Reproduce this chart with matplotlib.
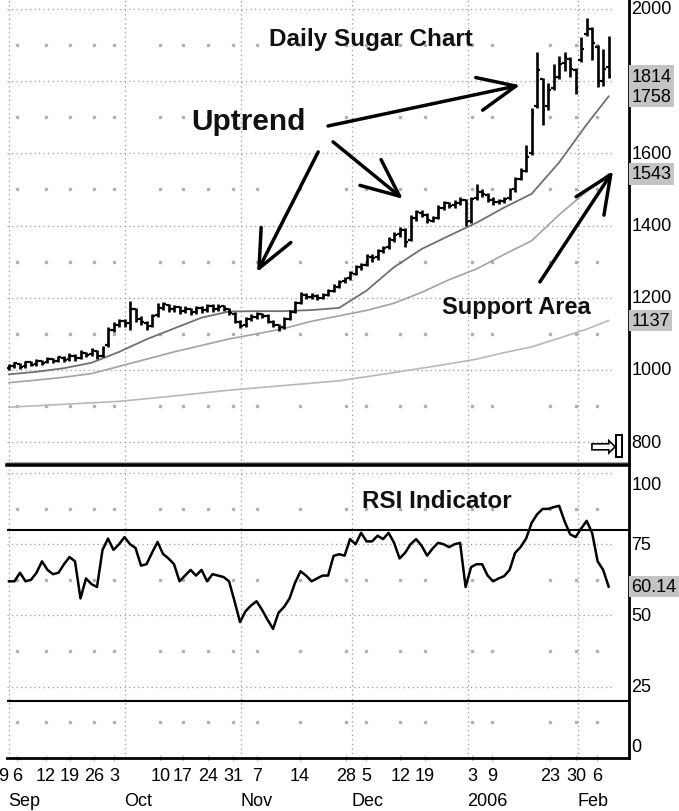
import matplotlib.pyplot as plt
import numpy as np
from matplotlib.patches import Rectangle
from matplotlib.transforms import blended_transform_factory

plt.rcParams["font.family"] = ["Liberation Sans", "DejaVu Sans"]

# daily sugar bars, one per trading day (Sep 1 2005 .. Feb 8 2006)
OPEN = [1005, 1012, 1016, 1010, 1021, 1016, 1025, 1022, 1030, 1025,
        1034, 1030, 1040, 1034, 1047, 1043, 1052, 1040, 1068, 1112,
        1124, 1135, 1130, 1168, 1141, 1130, 1122, 1152, 1172, 1180,
        1168, 1174, 1164, 1170, 1160, 1172, 1166, 1177, 1168, 1176,
        1168, 1156, 1134, 1124, 1140, 1148, 1154, 1150, 1134, 1124,
        1118, 1142, 1162, 1186, 1208, 1202, 1206, 1200, 1208, 1220,
        1230, 1246, 1254, 1266, 1286, 1292, 1314, 1312, 1330, 1340,
        1360, 1376, 1388, 1360, 1420, 1436, 1430, 1414, 1422, 1450,
        1462, 1456, 1462, 1470, 1412, 1476, 1494, 1486, 1472, 1464,
        1468, 1476, 1500, 1530, 1552, 1600, 1730, 1805, 1730, 1780,
        1812, 1850, 1862, 1830, 1860, 1930, 1945, 1895, 1800, 1840]
HIGH = [1016, 1022, 1020, 1026, 1025, 1030, 1028, 1036, 1033, 1040,
        1038, 1046, 1043, 1054, 1050, 1060, 1056, 1066, 1118, 1132,
        1142, 1140, 1190, 1172, 1150, 1136, 1156, 1186, 1188, 1184,
        1180, 1178, 1176, 1173, 1178, 1176, 1184, 1182, 1182, 1180,
        1172, 1160, 1138, 1146, 1154, 1160, 1158, 1154, 1138, 1128,
        1146, 1166, 1190, 1215, 1212, 1214, 1210, 1212, 1224, 1238,
        1250, 1258, 1274, 1290, 1296, 1322, 1320, 1336, 1344, 1368,
        1382, 1396, 1392, 1428, 1444, 1442, 1434, 1426, 1456, 1468,
        1466, 1470, 1480, 1474, 1480, 1515, 1500, 1490, 1478, 1474,
        1480, 1505, 1535, 1560, 1622, 1725, 1882, 1810, 1795, 1848,
        1870, 1882, 1868, 1836, 1922, 1975, 1950, 1900, 1890, 1925]
LOW = [1000, 1006, 1003, 1006, 1010, 1012, 1014, 1018, 1018, 1021,
       1022, 1026, 1026, 1030, 1036, 1040, 1030, 1036, 1064, 1106,
       1120, 1118, 1110, 1134, 1125, 1112, 1118, 1148, 1166, 1160,
       1162, 1156, 1158, 1152, 1156, 1158, 1162, 1162, 1164, 1164,
       1152, 1130, 1116, 1120, 1136, 1142, 1144, 1130, 1120, 1108,
       1114, 1138, 1158, 1182, 1196, 1198, 1194, 1196, 1204, 1216,
       1226, 1240, 1250, 1262, 1276, 1288, 1300, 1306, 1324, 1334,
       1354, 1368, 1342, 1356, 1414, 1424, 1408, 1410, 1418, 1444,
       1448, 1450, 1456, 1398, 1408, 1470, 1480, 1466, 1458, 1460,
       1462, 1472, 1494, 1526, 1548, 1595, 1725, 1680, 1720, 1775,
       1805, 1828, 1812, 1764, 1852, 1925, 1860, 1785, 1788, 1810]
CLOSE = [1011, 1018, 1008, 1022, 1015, 1026, 1020, 1030, 1024, 1035,
         1028, 1040, 1033, 1048, 1042, 1055, 1038, 1060, 1112, 1125,
         1136, 1128, 1170, 1140, 1132, 1120, 1150, 1172, 1182, 1168,
         1175, 1163, 1170, 1158, 1172, 1165, 1178, 1168, 1175, 1170,
         1158, 1135, 1122, 1140, 1148, 1155, 1150, 1135, 1125, 1115,
         1140, 1160, 1185, 1210, 1202, 1208, 1200, 1206, 1218, 1232,
         1245, 1252, 1268, 1285, 1290, 1315, 1310, 1330, 1338, 1362,
         1375, 1390, 1355, 1420, 1438, 1430, 1415, 1420, 1450, 1462,
         1455, 1462, 1472, 1410, 1475, 1495, 1488, 1472, 1465, 1468,
         1475, 1498, 1530, 1550, 1590, 1710, 1830, 1720, 1775, 1810,
         1848, 1866, 1835, 1780, 1890, 1948, 1905, 1800, 1835, 1814]

RSI = [62, 62, 65, 62, 62.5, 65, 69, 66, 64.5, 65,
       68, 70.5, 69, 56, 63, 61, 60, 73, 77, 73,
       75, 77.5, 75, 73.7, 67.5, 68, 72, 75.8, 71.6, 70,
       68, 62, 64, 66, 64, 66, 62, 64.5, 64, 63.5,
       62, 55, 47.7, 51.5, 53.5, 55, 52, 48.5, 45.3, 51,
       53, 56, 61.5, 65.5, 64, 62, 63, 64, 64, 70.9,
       71.5, 71, 76.8, 75, 79, 76, 76, 78, 76.8, 79,
       75.5, 70, 72, 75, 76.8, 74.5, 71, 73.5, 75.5, 75,
       74, 75, 75.5, 60, 67, 68, 68, 64, 62, 63,
       63.8, 66, 72, 74, 77, 82.5, 85.5, 87.4, 87.4, 88,
       88.5, 83, 78.5, 77.5, 80.5, 83.2, 79, 69, 66, 60.14]

# moving averages, read every 5 bars
MA_X = [0, 5, 10, 15, 20, 25, 30, 35, 40, 45, 50, 55, 60, 65, 70, 75,
        80, 85, 90, 95, 100, 105, 109]
MA_SHORT = [988, 995, 1005, 1020, 1050, 1085, 1115, 1145, 1162, 1163, 1163,
            1166, 1172, 1220, 1285, 1335, 1372, 1408, 1450, 1488, 1575, 1680, 1758]
MA_MID = [965, 972, 980, 990, 1010, 1030, 1050, 1068, 1086, 1100, 1115,
          1135, 1150, 1165, 1185, 1215, 1250, 1280, 1320, 1358, 1430, 1495, 1543]
MA_LONG_X = [0, 10, 20, 30, 40, 50, 60, 70, 80, 85, 90, 95, 100, 105, 109]
MA_LONG = [897, 905, 913, 928, 944, 957, 970, 993, 1017, 1030, 1048, 1064,
           1088, 1113, 1137]

DAY_LABELS = ["29", "6", "12", "19", "26", "3", "10", "17", "24", "31", "7",
              "14", "28", "5", "12", "19", "3", "9", "23", "30", "6"]
DAY_POS = [-1.8, 1.5, 6.7, 11.1, 15.5, 19.1, 27.5, 31.6, 36.2, 40.7, 45.1,
           52.9, 61.3, 64.9, 71.1, 75.6, 84.2, 87.8, 98.4, 103.1, 106.9]
MONTH_LABELS = ["Sep", "Oct", "Nov", "Dec", "2006", "Feb"]
MONTH_POS = [0, 21.1, 42.2, 62.4, 83.5, 103.5]

PRICE_GRID = [2000, 1800, 1600, 1400, 1200, 1000, 800]
PRICE_MINOR = [1900, 1700, 1500, 1300, 1100, 900]
PRICE_TICKS = [2000, 1600, 1400, 1200, 1000, 800]
PRICE_LAST = [1814, 1758, 1543, 1137]
RSI_GRID = [100, 75, 50, 25]
RSI_MINOR = [87.5, 62.5, 37.5, 12.5]
RSI_TICKS = ["100", "75", "50", "25", "0"]
RSI_TICK_POS = [96, 75, 50, 25, 4]
RSI_BANDS = [80, 20]

GRID_KW = dict(color="#9c9c9c", lw=0.9, linestyle=(0, (1, 2.6)))
MINOR_KW = dict(color="#b0b0b0", marker="s", markersize=1.4, linestyle="none")

fig = plt.figure(figsize=(6.79, 8.12), dpi=100)
W, H = 679, 812
ax_p = fig.add_axes([7 / W, 1 - 466 / H, 622 / W, 466 / H])
ax_r = fig.add_axes([7 / W, 1 - 759 / H, 622 / W, 291 / H])

x = np.arange(len(CLOSE))
x_lo, x_hi = -0.36, 112.7
grid_right = 109.8

# ---- price panel ----
for v in PRICE_GRID:
    ax_p.hlines(v, x_lo, grid_right, **GRID_KW)
for m in MONTH_POS:
    ax_p.axvline(m, **GRID_KW)
    ax_r.axvline(m, **GRID_KW)
for v in PRICE_MINOR:
    ax_p.plot(DAY_POS, [v] * len(DAY_POS), **MINOR_KW)

ax_p.plot(MA_LONG_X, MA_LONG, color="#b8b8b8", lw=1.2)
ax_p.plot(MA_X, MA_MID, color="#a2a2a2", lw=1.2)
ax_p.plot(MA_X, MA_SHORT, color="#707070", lw=1.3)

ax_p.vlines(x, LOW, HIGH, color="black", lw=1.9)
ax_p.hlines(OPEN, x - 0.5, x, color="black", lw=1.6)
ax_p.hlines(CLOSE, x, x + 0.5, color="black", lw=1.6)
ax_p.axhline(745, color="#a8a8a8", lw=0.8)

ax_p.set_xlim(x_lo, x_hi)
ax_p.set_ylim(736.8, 2027.7)

bold = dict(fontweight="bold", color="#111111", ha="center", va="center")
ax_p.text(65.8, 1917, "Daily Sugar Chart", fontsize=17.5, **bold)
ax_p.text(43.5, 1690, "Uptrend", fontsize=21.5, **bold)
ax_p.text(92.2, 1177, "Support Area", fontsize=17, **bold)

arrow_kw = dict(arrowstyle="->,head_length=1.35,head_width=0.6",
                color="black", lw=2.5, mutation_scale=20,
                shrinkA=0, shrinkB=0)
for start, tip in [((58, 1676), (92.9, 1789)),
                   ((56.2, 1604), (45.1, 1271)),
                   ((58.9, 1632), (71.6, 1474)),
                   ((96.5, 1244), (109.8, 1551))]:
    ax_p.annotate("", xy=tip, xytext=start, arrowprops=arrow_kw)

# right-hand price labels
tr_p = blended_transform_factory(ax_p.transAxes, ax_p.transData)
for v in PRICE_TICKS:
    ax_p.text(1.004, v, str(v), transform=tr_p, fontsize=13, va="center",
              ha="left", clip_on=False)
for v in PRICE_LAST:
    ax_p.text(1.004, v, str(v), transform=tr_p, fontsize=13, va="center",
              ha="left", clip_on=False,
              bbox=dict(boxstyle="square,pad=0.12", fc="#c4c4c4", ec="none"))

# ---- RSI panel ----
for v in RSI_GRID:
    ax_r.hlines(v, x_lo, grid_right, **GRID_KW)
for v in RSI_MINOR:
    ax_r.plot(DAY_POS, [v] * len(DAY_POS), **MINOR_KW)
for v in RSI_BANDS:
    ax_r.axhline(v, color="black", lw=1.5)
ax_r.plot(x, RSI, color="black", lw=1.8)
ax_r.set_xlim(x_lo, x_hi)
ax_r.set_ylim(0, 102.1)
ax_r.text(77.8, 90.2, "RSI Indicator", fontsize=17.5, **bold)

tr_r = blended_transform_factory(ax_r.transAxes, ax_r.transData)
for lab, v in zip(RSI_TICKS, RSI_TICK_POS):
    ax_r.text(1.004, v, lab, transform=tr_r, fontsize=13, va="center",
              ha="left", clip_on=False)
ax_r.text(1.004, RSI[-1], f"{RSI[-1]:.2f}", transform=tr_r, fontsize=13,
          va="center", ha="left", clip_on=False,
          bbox=dict(boxstyle="square,pad=0.12", fc="#c4c4c4", ec="none"))

# date labels under the RSI panel
tr_x = blended_transform_factory(ax_r.transData, ax_r.transAxes)
for lab, pos in zip(DAY_LABELS, DAY_POS):
    ax_r.text(pos, -0.06, lab, transform=tr_x, fontsize=13, ha="center",
              va="center", clip_on=False)
for lab, pos in zip(MONTH_LABELS, MONTH_POS):
    ax_r.text(pos - 0.2, -0.145, lab, transform=tr_x, fontsize=13, ha="left",
              va="center", clip_on=False)

for ax in (ax_p, ax_r):
    ax.spines["left"].set_visible(False)
    ax.spines["top"].set_visible(False)
    ax.spines["right"].set_linewidth(2)
    ax.set_yticks([])
ax_p.spines["bottom"].set_linewidth(2.6)
ax_r.spines["bottom"].set_linewidth(2)
ax_p.set_xticks([])
ax_r.set_xticks([p for p in DAY_POS if p > x_lo])
ax_r.tick_params(axis="x", length=3, width=0.8, direction="inout",
                 labelbottom=False, color="#555555")

# little scroll icon at bottom right of the price panel
fig.text(604 / W, 1 - 447 / H, "\u21e8", fontsize=24, family="DejaVu Sans",
         ha="center", va="center")
fig.patches.append(Rectangle((616 / W, 1 - 458 / H), 6 / W, 22 / H,
                             transform=fig.transFigure, fill=False,
                             lw=1.4, ec="black"))

fig.savefig("out.png", dpi=100)
